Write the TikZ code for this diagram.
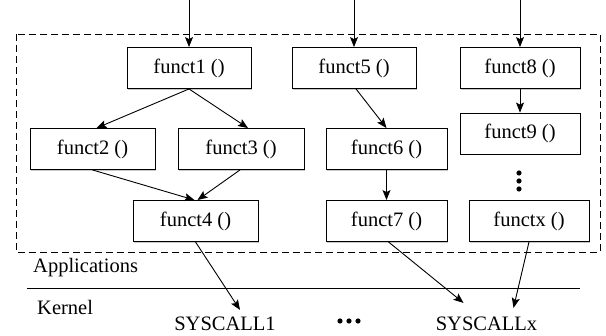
\documentclass[tikz,border=0pt]{standalone}
\usepackage{fontspec}
\setmainfont{Liberation Serif}
\usetikzlibrary{arrows.meta,calc,shadows}
\begin{document}
\begin{tikzpicture}[x=1pt,y=-1pt,
  fbox/.style={draw=black,line width=0.9pt,fill=white,inner sep=0pt,
    minimum height=41pt,font=\fontsize{20.5}{24}\selectfont,
    drop shadow={shadow xshift=1.3pt,shadow yshift=-1.3pt,fill=black!22,opacity=1}},
  lbl/.style={inner sep=0pt,font=\fontsize{20.5}{24}\selectfont},
  arr/.style={line width=0.9pt,-{Stealth[length=10pt,width=8pt,inset=2pt]}},
  dotc/.style={fill=black,draw=none}]
\useasboundingbox (0,0) rectangle (606,336);
\draw[line width=0.9pt,dash pattern=on 7pt off 4pt] (16,34) rectangle (600,252);
\node[fbox,minimum width=124pt] (f1) at (189,68) {funct1 ()};
\node[fbox,minimum width=124pt] (f5) at (354,68) {funct5 ()};
\node[fbox,minimum width=120pt] (f8) at (520,68) {funct8 ()};
\node[fbox,minimum width=125pt] (f2) at (92.5,149) {funct2 ()};
\node[fbox,minimum width=126pt] (f3) at (241,149) {funct3 ()};
\node[fbox,minimum width=121pt] (f6) at (386.5,149) {funct6 ()};
\node[fbox,minimum width=120pt] (f9) at (520,133.5) {funct9 ()};
\node[fbox,minimum width=125pt] (f4) at (195.5,221) {funct4 ()};
\node[fbox,minimum width=121pt] (f7) at (386.5,221) {funct7 ()};
\node[fbox,minimum width=120pt] (fx) at (529,221) {functx ()};
\foreach \yy in {173,181,189} \fill[dotc] (519,\yy) circle (2.6pt);
\foreach \xx in {340,349,358} \fill[dotc] (\xx,321) circle (2.6pt);
\coordinate (t1) at (189,0);
\coordinate (t5) at (354,0);
\coordinate (t8) at (520,0);
\draw[arr] (t1) -- (f1.north);
\draw[arr] (t5) -- (f5.north);
\draw[arr] (t8) -- (f8.north);
\draw[arr] (f1.south) -- ([xshift=4pt]f2.north);
\draw[arr] (f1.south) -- ([xshift=7pt]f3.north);
\draw[arr] (f2.south) -- ([xshift=-1pt]f4.north);
\draw[arr] ([xshift=-1pt]f3.south) -- ([xshift=2pt]f4.north);
\draw[arr] ([xshift=2pt]f5.south) -- (f6.north);
\draw[arr] (f6.south) -- (f7.north);
\draw[arr] (f8.south) -- (f9.north);
\node[lbl,anchor=west] (app) at (33,268) {Applications};
\node[lbl,anchor=west] (ker) at (37,307) {Kernel};
\coordinate (hl) at (27,288);
\coordinate (hr) at (580,288);
\draw[line width=0.9pt] (hl) -- (hr);
\node[lbl] (s1) at (225,324) {SYSCALL1};
\node[lbl] (sx) at (486.5,324) {SYSCALLx};
\draw[arr] (f4.south) -- ([xshift=15pt,yshift=7pt]s1.north);
\draw[arr] ([xshift=2pt]f7.south) -- ([xshift=-23pt,yshift=14pt]sx.north);
\draw[arr] (fx.south) -- ([xshift=27pt,yshift=9pt]sx.north);
\end{tikzpicture}
\end{document}
